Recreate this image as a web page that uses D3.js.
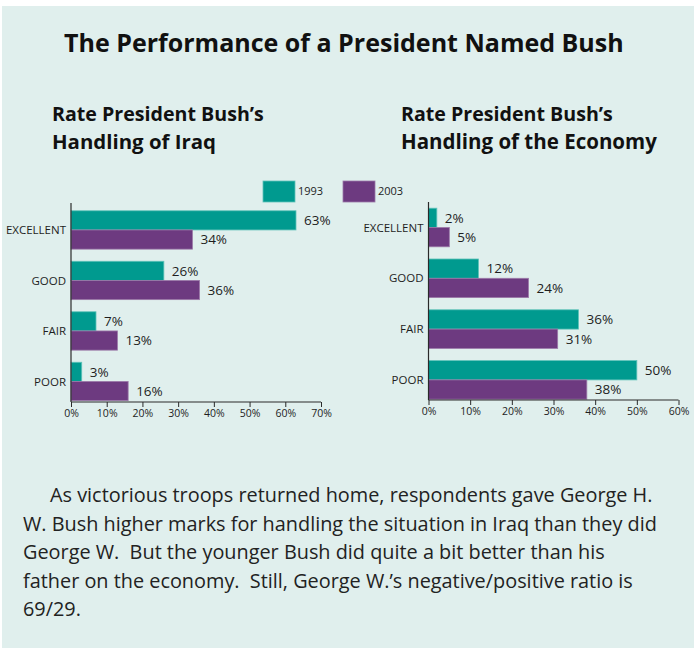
<!DOCTYPE html>
<html>
<head>
<meta charset="utf-8">
<script src="https://cdn.jsdelivr.net/npm/d3@7/dist/d3.min.js"></script>
<style>
  html, body { margin: 0; padding: 0; background: #ffffff; }
  svg { display: block; }
  text { font-family: "Open Sans", "Noto Sans", sans-serif; white-space: pre; }
</style>
</head>
<body>
<svg id="chart" width="694" height="648"></svg>
<script>
// ---- data ----
const categories = ["EXCELLENT", "GOOD", "FAIR", "POOR"];
const years = ["1993", "2003"];
const iraq1993 = [63, 26, 7, 3];
const iraq2003 = [34, 36, 13, 16];
const economy1993 = [2, 12, 36, 50];
const economy2003 = [5, 24, 31, 38];
const iraqTicks = [0, 10, 20, 30, 40, 50, 60, 70];
const economyTicks = [0, 10, 20, 30, 40, 50, 60];

const titleText = "The Performance of a President Named Bush";
const iraqSubtitle = ["Rate President Bush\u2019s", "Handling of Iraq"];
const economySubtitle = ["Rate President Bush\u2019s", "Handling of the Economy"];
const bodyLines = [
  "As victorious troops returned home, respondents gave George H.",
  "W. Bush higher marks for handling the situation in Iraq than they did",
  "George W.  But the younger Bush did quite a bit better than his",
  "father on the economy.  Still, George W.\u2019s negative/positive ratio is",
  "69/29."
];

// ---- styles ----
const colors = { "1993": "#009a8f", "2003": "#6d3a80" };
const strokes = { "1993": "#5fc2b9", "2003": "#9c79a8" };
const bg = "#e0efed";
const ink = "#1e1e1e";

const svg = d3.select("#chart");

// page background with thin white margin on top and left
svg.append("rect").attr("x", 0).attr("y", 0).attr("width", 694).attr("height", 648).attr("fill", "#ffffff");
svg.append("rect").attr("x", 2).attr("y", 6).attr("width", 692).attr("height", 642).attr("fill", bg);

// scale a text's font size so its rendered width equals the target width
function fitWidth(sel, target) {
  const node = sel.node();
  const size = parseFloat(sel.attr("font-size"));
  const w = node.getComputedTextLength();
  sel.attr("font-size", (size * target / w).toFixed(2));
}

// ---- title ----
const title = svg.append("text")
  .attr("x", 64).attr("y", 52)
  .attr("font-size", 24).attr("font-weight", 700).attr("fill", "#111")
  .text(titleText);
fitWidth(title, 560);

// ---- subtitles ----
function subtitle(lines, x, widths) {
  lines.forEach((t, i) => {
    const s = svg.append("text")
      .attr("x", x).attr("y", 121 + i * 28)
      .attr("font-size", 19).attr("font-weight", 700).attr("fill", "#111")
      .text(t);
    fitWidth(s, widths[i]);
  });
}
subtitle(iraqSubtitle, 52, [212, 164]);
subtitle(economySubtitle, 401, [212, 256]);

// ---- bar panels ----
function panel(opts) {
  const { v1993, v2003, ticks, xMin, xMax, yTop, yBottom, baseY, domainMax, axisTop } = opts;
  const x = d3.scaleLinear().domain([0, domainMax]).range([xMin, xMax]);
  const y = d3.scaleBand().domain(categories).range([yTop, yBottom])
    .paddingInner(0.24).paddingOuter(0.12);
  const ySub = d3.scaleBand().domain(years).range([0, y.bandwidth()]);

  const rows = categories.map((c, i) => ({ cat: c, values: [
    { year: "1993", v: v1993[i] }, { year: "2003", v: v2003[i] }
  ]}));

  const g = svg.append("g");
  const groups = g.selectAll("g.row").data(rows).enter().append("g")
    .attr("transform", d => `translate(0,${y(d.cat)})`);

  groups.selectAll("rect").data(d => d.values).enter().append("rect")
    .attr("x", x(0))
    .attr("y", d => ySub(d.year))
    .attr("width", d => x(d.v) - x(0))
    .attr("height", ySub.bandwidth())
    .attr("fill", d => colors[d.year])
    .attr("stroke", d => strokes[d.year])
    .attr("stroke-width", 0.8);

  groups.selectAll("text.val").data(d => d.values).enter().append("text")
    .attr("class", "val")
    .attr("x", d => x(d.v) + 8)
    .attr("y", d => ySub(d.year) + ySub.bandwidth() / 2)
    .attr("dy", "0.36em")
    .attr("font-size", 13.5).attr("fill", ink)
    .text(d => d.v + "%");

  // category labels
  g.selectAll("text.cat").data(categories).enter().append("text")
    .attr("x", x(0) - 5)
    .attr("y", d => y(d) + y.bandwidth() / 2)
    .attr("dy", "0.36em")
    .attr("text-anchor", "end")
    .attr("font-size", 11.5).attr("fill", ink)
    .text(d => d);

  // vertical axis line
  g.append("line")
    .attr("x1", x(0)).attr("x2", x(0))
    .attr("y1", axisTop).attr("y2", baseY)
    .attr("stroke", "#2a2a2a").attr("stroke-width", 1.2);

  // bottom axis
  const axis = d3.axisBottom(x).tickValues(ticks).tickSize(5).tickPadding(3)
    .tickFormat(d => d + "%");
  const ax = g.append("g").attr("transform", `translate(0,${baseY})`).call(axis);
  ax.select(".domain").attr("d", `M${x(0)},0H${x(domainMax)}`).attr("stroke", "#2a2a2a").attr("stroke-width", 1.2);
  ax.selectAll(".tick line").attr("stroke", "#2a2a2a");
  ax.selectAll(".tick text").attr("font-size", 10.5).attr("fill", ink)
    .attr("font-family", "'Open Sans', sans-serif");
}

panel({ v1993: iraq1993, v2003: iraq2003, ticks: iraqTicks,
  xMin: 71, xMax: 321, yTop: 204.7, yBottom: 406.7, baseY: 402, domainMax: 70, axisTop: 203 });
panel({ v1993: economy1993, v2003: economy2003, ticks: economyTicks,
  xMin: 428.5, xMax: 678.5, yTop: 202.1, yBottom: 405.3, baseY: 400, domainMax: 60, axisTop: 202 });

// ---- legend ----
const legendItems = [
  { year: "1993", x: 263 },
  { year: "2003", x: 343 }
];
const lg = svg.append("g").selectAll("g").data(legendItems).enter().append("g");
lg.append("rect")
  .attr("x", d => d.x).attr("y", 181)
  .attr("width", 32).attr("height", 21)
  .attr("fill", d => colors[d.year])
  .attr("stroke", d => strokes[d.year]).attr("stroke-width", 0.8);
lg.append("text")
  .attr("x", d => d.x + 35).attr("y", 191.5).attr("dy", "0.36em")
  .attr("font-size", 11).attr("fill", ink)
  .text(d => d.year);

// ---- commentary ----
const body = svg.append("g").attr("fill", "#222");
body.selectAll("text").data(bodyLines).enter().append("text")
  .attr("x", (d, i) => i === 0 ? 50 : 23)
  .attr("y", (d, i) => 502 + i * 28.5)
  .attr("font-size", 18)
  .text(d => d);
// size the paragraph so the widest line spans the text column
const probe = body.selectAll("text").filter((d, i) => i === 1);
const w = probe.node().getComputedTextLength();
const fs = (18 * 634 / w).toFixed(2);
body.selectAll("text").attr("font-size", fs);
</script>
</body>
</html>
